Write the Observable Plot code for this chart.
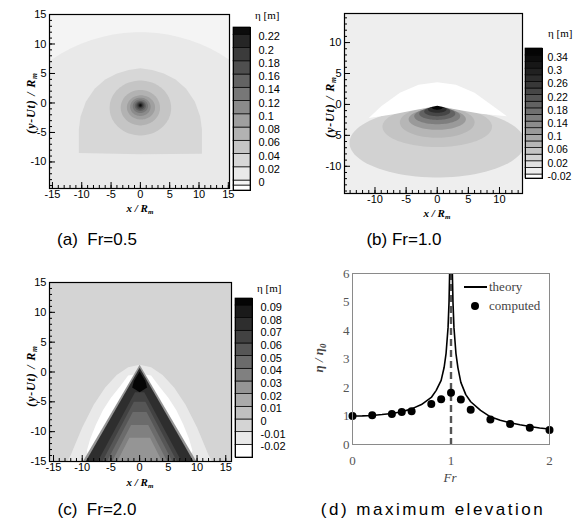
<!DOCTYPE html>
<html><head><meta charset="utf-8">
<script src="https://cdn.jsdelivr.net/npm/d3@7"></script>
<script src="https://cdn.jsdelivr.net/npm/@observablehq/plot@0.6"></script>
<style>
html,body{margin:0;padding:0;background:#fff;}
#root{position:relative;width:574px;height:524px;overflow:hidden;background:#fff;}
#root svg{position:absolute;overflow:visible;}
.cap{position:absolute;font-family:"Liberation Sans",Arial,sans-serif;font-size:17px;color:#000;white-space:pre;transform:translate(-50%,-50%);}
</style></head><body><div id="root"></div>
<script>
// ---------- shared ticks ----------
const majorTicks = [-15, -10, -5, 0, 5, 10, 15];
const minorTicks = d3.range(-15, 16);

// ---------- panel (a) Fr=0.5 ----------
const thresholdsA = [-0.0075, 0, 0.02, 0.04, 0.06, 0.08, 0.10, 0.12, 0.14, 0.16, 0.18, 0.20, 0.22];
const greysA = ["#ffffff","#f4f4f4","#e9e9e9","#d7d7d7","#c5c5c5","#b2b2b2","#9f9f9f","#8b8b8b","#777777","#636363","#4f4f4f","#3b3b3b","#262626","#0c0c0c"];
const cbarTicksA = [0, 0.02, 0.04, 0.06, 0.08, 0.10, 0.12, 0.14, 0.16, 0.18, 0.20, 0.22];
const cbarExtentA = [-0.015, 0.231];
const bgLevelA = -0.004;
const outerCircleA = [0, -15, 27, 27, 0.01];           // cx, cy, rx, ry, level
const domeA = [[-10.5,-4.5],[-10.2,-2.3],[-9.3,0.2],[-7.8,2.4],[-6,4.0],[-4,5.0],[-2,5.6],[0,5.9],[2,5.6],[4,5.0],[6,4.0],[7.8,2.4],[9.3,0.2],[10.2,-2.3],[10.5,-4.5],[10.5,-8.6],[0,-8.7],[-10.5,-8.5]];
const domeLevelA = 0.03;
const ringsA = [
  [0,-0.85,5.25,4.65,0.05],
  [0,-0.8,3.35,3.0,0.07],
  [0.1,-0.75,2.4,2.05,0.09],
  [0,-0.65,1.75,1.55,0.11],
  [0,-0.55,1.3,1.15,0.13],
  [0,-0.5,0.95,0.85,0.15],
  [0,-0.45,0.7,0.65,0.17],
  [0,-0.4,0.5,0.45,0.19],
  [0,-0.4,0.32,0.3,0.21],
  [0,-0.4,0.18,0.18,0.23]
];

// ---------- panel (b) Fr=1.0 ----------
const thresholdsB = [-0.02,0,0.02,0.04,0.06,0.08,0.10,0.12,0.14,0.16,0.18,0.20,0.22,0.24,0.26,0.28,0.30,0.32,0.34];
const greysB = ["#ffffff","#eeeeee","#e0e0e0","#d2d2d2","#c4c4c4","#b6b6b6","#a8a8a8","#9a9a9a","#8c8c8c","#7e7e7e","#707070","#626262","#545454","#464646","#383838","#2c2c2c","#212121","#171717","#0d0d0d","#040404"];
const cbarTicksB = [-0.02, 0.02, 0.06, 0.10, 0.14, 0.18, 0.22, 0.26, 0.30, 0.34];
const cbarExtentB = [-0.032, 0.361];
const bgLevelB = -0.01;
const ellipsesB = [
  [0,-6.2,14.1,5.6,0.03],
  [0,-3.6,8.8,3.3,0.05],
  [0,-2.9,6.0,2.5,0.07],
  [0,-2.4,4.6,1.7,0.11],
  [0,-1.9,3.7,1.3,0.15],
  [0,-1.5,2.9,1.0,0.19],
  [0,-1.15,2.1,0.75,0.23],
  [0,-0.8,1.5,0.55,0.27],
  [0,-0.45,0.9,0.4,0.35]
];
const domeB = [[-11,-2.2],[-9,-0.3],[-6,1.9],[-3,3.2],[0,3.6],[3,3.2],[6,1.9],[9,-0.3],[11.2,-1.9],[7,-1.5],[4,-1.0],[2,-0.6],[0,-0.2],[-2,-0.6],[-4,-1.0],[-7,-1.6]];
const domeLevelB = -0.03;

// ---------- panel (c) Fr=2.0 ----------
const thresholdsC = [-0.02,-0.01,0,0.01,0.02,0.03,0.04,0.05,0.06,0.07,0.08,0.09];
const greysC = ["#ffffff","#e9e9e9","#d4d4d4","#bfbfbf","#aaaaaa","#959595","#808080","#6b6b6b","#565656","#424242","#2e2e2e","#1a1a1a","#050505"];
const cbarTicksC = [-0.02,-0.01,0,0.01,0.02,0.03,0.04,0.05,0.06,0.07,0.08,0.09];
const cbarExtentC = [-0.030, 0.0955];
const bgLevelC = -0.005;
const parabolaC = [[-12.6,-15],[-12,-13.9],[-10,-9.3],[-8,-5.5],[-6,-2.6],[-4,-0.5],[-2,0.8],[0,1.2],[2,0.8],[4,-0.5],[6,-2.6],[8,-5.5],[10,-9.3],[12,-13.9],[12.6,-15]];
const troughC = [[-9.0,-13.8],[-9.2,-13.2],[-8.6,-11.2],[-7.6,-8.8],[-6.4,-6.4],[-5.0,-4.3],[-3.5,-2.5],[-2.0,-0.6],[0,-0.3],[2.0,-0.6],[3.5,-2.5],[5.0,-4.3],[6.4,-6.4],[7.6,-8.8],[8.6,-11.2],[9.2,-13.2],[9.0,-13.8]];
const fringeC = [[-9.9,-15],[0,1.2],[9.9,-15]];
const rimC = [[-9.4,-15],[0,0.7],[9.4,-15]];
const chevronsC = [
  [[[-7.3,-15],[-0.8,-3.4],[0.8,-3.4],[7.3,-15]], 0.065],
  [[[-6.5,-15],[-1.0,-5.0],[1.0,-5.0],[6.5,-15]], 0.055],
  [[[-5.7,-15],[-1.2,-6.7],[1.2,-6.7],[5.7,-15]], 0.045],
  [[[-4.8,-15],[-1.5,-8.9],[1.5,-8.9],[4.8,-15]], 0.035],
  [[[-3.9,-15],[-1.8,-11],[1.8,-11],[3.9,-15]], 0.025]
];
const tipC = [[0,0.1],[-1.0,-1.5],[-1.3,-2.6],[0,-3.4],[1.3,-2.6],[1.0,-1.5]];

// ---------- panel (d) maximum elevation ----------
const theoryFrL  = [0,0.1,0.2,0.3,0.4,0.5,0.6,0.7,0.8,0.85,0.9,0.93,0.95,0.97,0.98,0.986];
const theoryEtaL = [1.0,1.005,1.02,1.05,1.09,1.15,1.25,1.4,1.65,1.9,2.25,2.7,3.2,4.1,5.0,6.0];
const theoryFrR  = [1.014,1.02,1.03,1.05,1.07,1.1,1.15,1.2,1.3,1.4,1.5,1.6,1.7,1.8,1.9,2.0];
const theoryEtaR = [6.0,5.0,4.1,3.2,2.7,2.18,1.75,1.5,1.2,0.97,0.85,0.76,0.69,0.63,0.58,0.54];
const computedFr  = [0,0.2,0.4,0.5,0.6,0.8,0.9,1.0,1.1,1.2,1.4,1.6,1.8,2.0];
const computedEta = [1.0,1.03,1.07,1.14,1.17,1.42,1.59,1.82,1.58,1.22,0.88,0.72,0.59,0.51];
const resonanceFr = [1];
const xTicksD = [0, 1, 2];
const yTicksD = [0, 1, 2, 3, 4, 5, 6];

// ---------- helpers ----------
const root = document.getElementById("root");
function place(node, left, top){ node.style.left = left + "px"; node.style.top = top + "px"; root.appendChild(node); return node; }
function ellipsePts([cx, cy, rx, ry]){ const n = 90; return d3.range(n).map(i => { const t = 2*Math.PI*i/n; return [cx + rx*Math.cos(t), cy + ry*Math.sin(t)]; }); }
const fmt = d => String(+d.toFixed(3));

function contourPanel(o){
  const fw = o.width - o.ml - o.mr, fh = o.height - o.mt - o.mb;
  const inX = v => v >= o.xDomain[0] - 1e-9 && v <= o.xDomain[1] + 1e-9;
  const inY = v => v >= o.yDomain[0] - 1e-9 && v <= o.yDomain[1] + 1e-9;
  const colorFn = d3.scaleThreshold(o.thresholds, o.colors);
  const rows = o.shapes.flatMap((s, i) => s.pts.map(([x, y]) => ({id: i, level: s.level, x, y})));
  return Plot.plot({
    width: o.width, height: o.height, marginLeft: o.ml, marginRight: o.mr, marginTop: o.mt, marginBottom: o.mb,
    x: {domain: o.xDomain}, y: {domain: o.yDomain},
    color: {type: "threshold", domain: o.thresholds, range: o.colors},
    style: {background: "transparent", fontFamily: "'Liberation Sans', Arial, sans-serif", fontSize: "11px", color: "#000", overflow: "visible"},
    marks: [
      Plot.frame({fill: colorFn(o.bgLevel), stroke: "none"}),
      Plot.line(rows, {x: "x", y: "y", z: "id", fill: "level", stroke: "none", curve: "linear-closed", clip: true}),
      Plot.tickX(minorTicks.filter(inX), {x: d => d, insetTop: fh - 3, stroke: "#000"}),
      Plot.tickX(majorTicks.filter(inX), {x: d => d, insetTop: fh - 6, stroke: "#000"}),
      Plot.tickY(minorTicks.filter(inY), {y: d => d, insetRight: fw - 3, stroke: "#000"}),
      Plot.tickY(majorTicks.filter(inY), {y: d => d, insetRight: fw - 6, stroke: "#000"}),
      Plot.frame({stroke: "#000", strokeWidth: 1.2}),
      Plot.axisX({ticks: majorTicks.filter(inX), tickSize: 0, tickPadding: 2, tickFormat: d => String(d), label: null}),
      Plot.axisY({ticks: majorTicks.filter(inY), tickSize: 0, tickPadding: 3, tickFormat: d => String(d), label: null})
    ]
  });
}

function colorbar(o){
  const bounds = [o.extent[0], ...o.thresholds.filter(t => t > o.extent[0] && t < o.extent[1]), o.extent[1]];
  const bands = d3.pairs(bounds).map(([lo, hi]) => ({lo, hi, mid: (lo + hi)/2}));
  return Plot.plot({
    width: 60, height: o.mt + o.barH + 12, marginTop: o.mt, marginBottom: 12, marginLeft: 5, marginRight: 38,
    x: {domain: [0, 1], axis: null}, y: {domain: o.extent, axis: null},
    color: {type: "threshold", domain: o.thresholds, range: o.colors},
    style: {background: "transparent", fontFamily: "'Liberation Sans', Arial, sans-serif", fontSize: (o.fontSize || 11) + "px", color: "#000", overflow: "visible"},
    marks: [
      Plot.rect(bands, {x1: () => 0, x2: () => 1, y1: "lo", y2: "hi", fill: "mid", stroke: "#000", strokeWidth: 0.7}),
      Plot.frame({stroke: "#000", strokeWidth: 1}),
      Plot.axisY({anchor: "right", ticks: o.ticks, tickSize: 0, tickPadding: o.pad || 8, dy: 2, tickFormat: fmt, label: null})
    ]
  });
}

const serif = "'Liberation Serif', 'Times New Roman', serif";
function addTitleXY(svg, xt, yt){
  const s = d3.select(svg);
  const tx = s.append("text").attr("x", xt[0]).attr("y", xt[1]).attr("text-anchor", "middle")
    .attr("font-family", serif).attr("font-style", "italic").attr("font-weight", "bold").attr("font-size", 11).attr("fill", "#000");
  tx.append("tspan").text("x / R");
  tx.append("tspan").attr("font-size", 7).attr("dy", 2).text("m");
  const ty = s.append("text").attr("transform", `translate(${yt[0]},${yt[1]}) rotate(-90)`).attr("text-anchor", "middle")
    .attr("font-family", serif).attr("font-style", "italic").attr("font-weight", "bold").attr("font-size", 12).attr("letter-spacing", 0.8).attr("fill", "#000");
  ty.append("tspan").text("(y-Ut) / R");
  ty.append("tspan").attr("font-size", 7.5).attr("dy", 2).text("m");
}
function addCbarTitle(svg, x, y){
  d3.select(svg).append("text").attr("x", x).attr("y", y).attr("text-anchor", "start")
    .attr("font-family", serif).attr("font-size", 11).attr("fill", "#000").text("η [m]");
}
function caption(text, cx, cy, spacing){
  const d = document.createElement("div"); d.className = "cap"; d.textContent = text;
  if (spacing) d.style.letterSpacing = spacing + "px";
  d.style.left = cx + "px"; d.style.top = cy + "px"; root.appendChild(d);
}

// ---------- build panel (a) ----------
const shapesA = [
  {level: outerCircleA[4], pts: ellipsePts(outerCircleA)},
  {level: domeLevelA, pts: domeA},
  ...ringsA.map(r => ({level: r[4], pts: ellipsePts(r)}))
];
const svgA = place(contourPanel({width: 232, height: 218, ml: 49, mr: 3, mt: 14, mb: 30,
  xDomain: [-15.5, 15.2], yDomain: [-14.5, 15], thresholds: thresholdsA, colors: greysA, bgLevel: bgLevelA, shapes: shapesA}), 0, 0);
addTitleXY(svgA, [140, 212], [35, 103]);
const cbA = place(colorbar({mt: 27, barH: 163, thresholds: thresholdsA, colors: greysA, extent: cbarExtentA, ticks: cbarTicksA}), 228, 0);
addCbarTitle(cbA, 27, 19);

// ---------- build panel (b) ----------
const shapesB = [
  ...ellipsesB.map(r => ({level: r[4], pts: ellipsePts(r)})),
  {level: domeLevelB, pts: domeB}
];
const svgB = place(contourPanel({width: 230, height: 223, ml: 49, mr: 3, mt: 13, mb: 30,
  xDomain: [-14.9, 13.7], yDomain: [-14.4, 14.7], thresholds: thresholdsB, colors: greysB, bgLevel: bgLevelB, shapes: shapesB}), 295, 0);
addTitleXY(svgB, [142, 217], [39, 107]);
const cbB = place(colorbar({mt: 48, barH: 130, thresholds: thresholdsB, colors: greysB, extent: cbarExtentB, ticks: cbarTicksB, pad: 5, fontSize: 10.5}), 520, 0);
addCbarTitle(cbB, 28, 37);

// ---------- build panel (c) ----------
const shapesC = [
  {level: -0.015, pts: parabolaC},
  {level: -0.025, pts: troughC},
  {level: 0.025, pts: fringeC},
  {level: 0.075, pts: rimC},
  ...chevronsC.map(([pts, level]) => ({level, pts})),
  {level: 0.095, pts: tipC}
];
const svgC = place(contourPanel({width: 234, height: 223, ml: 49, mr: 3, mt: 14, mb: 30,
  xDomain: [-15.7, 16.0], yDomain: [-15, 15], thresholds: thresholdsC, colors: greysC, bgLevel: bgLevelC, shapes: shapesC}), 0, 268);
addTitleXY(svgC, [140, 218], [35, 108]);
const cbC = place(colorbar({mt: 30, barH: 159, thresholds: thresholdsC, colors: greysC, extent: cbarExtentC, ticks: cbarTicksC}), 230, 268);
addCbarTitle(cbC, 27, 24);

// ---------- build panel (d) ----------
const theoryRows = [
  ...theoryFrL.map((fr, i) => ({branch: "L", fr, eta: theoryEtaL[i]})),
  ...theoryFrR.map((fr, i) => ({branch: "R", fr, eta: theoryEtaR[i]}))
];
const computedRows = computedFr.map((fr, i) => ({fr, eta: computedEta[i]}));
const svgD = place(Plot.plot({
  width: 269, height: 234, marginLeft: 62, marginRight: 10, marginTop: 23, marginBottom: 40,
  x: {domain: [0, 2]}, y: {domain: [0, 6]},
  style: {background: "transparent", fontFamily: serif, fontSize: "13px", color: "#555", overflow: "visible"},
  marks: [
    Plot.ruleX(resonanceFr, {stroke: "#555", strokeWidth: 2.4, strokeDasharray: "7,4"}),
    Plot.line(theoryRows, {x: "fr", y: "eta", z: "branch", stroke: "#000", strokeWidth: 1.6, clip: true}),
    Plot.dot(computedRows, {x: "fr", y: "eta", r: 4, fill: "#000", stroke: "none"}),
    Plot.frame({stroke: "#8a8a8a"}),
    Plot.axisX({ticks: xTicksD, tickSize: 0, tickPadding: 11, tickFormat: d => String(d), label: null}),
    Plot.axisY({ticks: yTicksD, tickSize: 0, tickPadding: 3, tickFormat: d => String(d), label: null})
  ]
}), 290, 250);
(function(){
  const s = d3.select(svgD);
  s.append("line").attr("x1", 174).attr("x2", 197).attr("y1", 37).attr("y2", 37).attr("stroke", "#000").attr("stroke-width", 2);
  s.append("text").attr("x", 199).attr("y", 37).attr("dy", "0.32em").attr("text-anchor", "start").attr("font-size", 13).attr("fill", "#444").text("theory");
  s.append("circle").attr("cx", 185).attr("cy", 56).attr("r", 4).attr("fill", "#000");
  s.append("text").attr("x", 199).attr("y", 56).attr("dy", "0.32em").attr("text-anchor", "start").attr("font-size", 13).attr("fill", "#444").text("computed");
  s.append("text").attr("x", 160).attr("y", 232).attr("text-anchor", "middle").attr("font-style", "italic").attr("font-size", 13).attr("fill", "#444").text("Fr");
  const ty = s.append("text").attr("transform", "translate(33,108) rotate(-90)").attr("text-anchor", "middle")
    .attr("font-style", "italic").attr("font-weight", "bold").attr("font-size", 13).attr("fill", "#444");
  ty.append("tspan").text("η / η");
  ty.append("tspan").attr("font-size", 9).attr("dy", 3).text("0");
})();

// ---------- captions ----------
caption("(a)  Fr=0.5", 97, 240);
caption("(b) Fr=1.0", 404, 240);
caption("(c)  Fr=2.0", 97, 510);
caption("(d) maximum elevation", 433, 510, 2.5);
</script></body></html>
